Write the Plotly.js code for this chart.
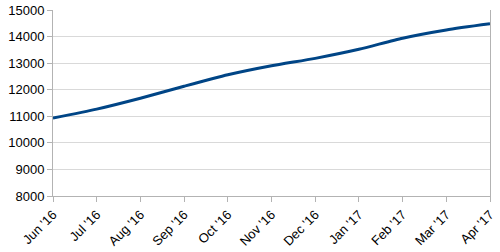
<!DOCTYPE html>
<html><head><meta charset="utf-8">
<script src="https://cdn.plot.ly/plotly-3.0.1.min.js"></script>
<style>body{margin:0;background:#fff}#c{width:500px;height:252px}</style>
</head><body><div id="c"></div>
<script>
const months = ["Jun '16","Jul '16","Aug '16","Sep '16","Oct '16","Nov '16","Dec '16","Jan '17","Feb '17","Mar '17","Apr '17"];
const values = [10930, 11270, 11680, 12130, 12560, 12900, 13180, 13520, 13940, 14250, 14480];
const yTicks = [8000, 9000, 10000, 11000, 12000, 13000, 14000, 15000];

Plotly.newPlot('c', [{
  x: months, y: values, type: 'scatter', mode: 'lines',
  line: {color: '#004586', width: 3, shape: 'spline', smoothing: 0.6}
}], {
  width: 500, height: 252,
  margin: {l: 53, r: 10, t: 10, b: 56},
  paper_bgcolor: '#fff', plot_bgcolor: '#fff',
  showlegend: false,
  font: {family: 'Liberation Sans, Arial, sans-serif', size: 13, color: '#000'},
  xaxis: {
    type: 'category', range: [0, 10], tickangle: -45,
    showgrid: false, showline: true, linecolor: '#b3b3b3', linewidth: 1,
    ticks: 'outside', ticklen: 5, tickcolor: '#b3b3b3',
    zeroline: false, tickfont: {size: 13}
  },
  yaxis: {
    range: [8000, 15000], tickvals: yTicks, ticktext: yTicks.map(String),
    showgrid: true, gridcolor: '#d9d9d9', gridwidth: 1,
    showline: true, linecolor: '#b3b3b3', mirror: true,
    ticks: 'outside', ticklen: 5, tickcolor: '#b3b3b3',
    zeroline: false, tickfont: {size: 13}
  }
}, {displayModeBar: false, staticPlot: true});
</script></body></html>
